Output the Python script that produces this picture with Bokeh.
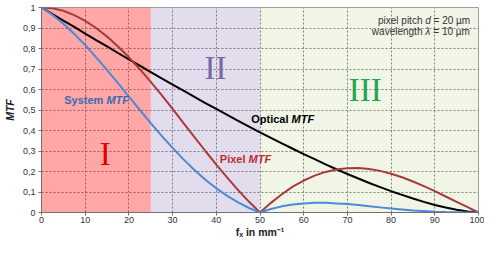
from bokeh.plotting import figure
from bokeh.models import Range1d, FixedTicker
from bokeh.core.properties import value
from bokeh.embed import file_html
from bokeh.resources import INLINE

# spatial frequency f_x in mm^-1
freq = [0, 2.5, 5, 7.5, 10, 12.5, 15, 17.5, 20, 22.5, 25, 27.5, 30, 32.5, 35, 37.5,
        40, 42.5, 45, 47.5, 50, 52.5, 55, 57.5, 60, 62.5, 65, 67.5, 70, 72.5, 75,
        77.5, 80, 82.5, 85, 87.5, 90, 92.5, 95, 97.5, 100]

optical_mtf = [1.0, 0.968, 0.936, 0.905, 0.873, 0.841, 0.810, 0.778, 0.747, 0.716,
               0.685, 0.654, 0.624, 0.594, 0.564, 0.534, 0.505, 0.476, 0.447, 0.419,
               0.391, 0.364, 0.337, 0.311, 0.285, 0.260, 0.235, 0.211, 0.188, 0.166,
               0.144, 0.124, 0.104, 0.086, 0.068, 0.052, 0.037, 0.024, 0.013, 0.005, 0.0]

pixel_mtf = [1.0, 0.996, 0.984, 0.963, 0.935, 0.900, 0.858, 0.810, 0.757, 0.699,
             0.637, 0.572, 0.505, 0.436, 0.368, 0.300, 0.234, 0.170, 0.109, 0.052,
             0.0, 0.047, 0.089, 0.126, 0.156, 0.180, 0.198, 0.210, 0.216, 0.217,
             0.212, 0.203, 0.189, 0.172, 0.151, 0.129, 0.104, 0.078, 0.052, 0.026, 0.0]

system_mtf = [1.0, 0.964, 0.921, 0.871, 0.817, 0.757, 0.695, 0.631, 0.565, 0.500,
              0.436, 0.374, 0.315, 0.259, 0.207, 0.160, 0.118, 0.081, 0.049, 0.022,
              0.0, 0.017, 0.030, 0.039, 0.044, 0.047, 0.047, 0.044, 0.041, 0.036,
              0.031, 0.025, 0.020, 0.015, 0.010, 0.007, 0.004, 0.002, 0.001, 0.0, 0.0]

# regions I, II, III
region_left = [0, 25, 50]
region_right = [25, 50, 100]
region_names = ["I", "II", "III"]

x_ticks = [0, 10, 20, 30, 40, 50, 60, 70, 80, 90, 100]
y_ticks = [0.0, 0.1, 0.2, 0.3, 0.4, 0.5, 0.6, 0.7, 0.8, 0.9, 1.0]
y_tick_labels = ["0", "0,1", "0,2", "0,3", "0,4", "0,5", "0,6", "0,7", "0,8", "0,9", "1"]

FONT = value("Liberation Sans")

p = figure(width=484, height=240, x_range=Range1d(0, 100), y_range=Range1d(0, 1),
           output_backend="svg", toolbar_location=None,
           min_border_left=39, min_border_right=6, min_border_top=7, min_border_bottom=26)
p.background_fill_color = "white"
p.border_fill_color = "white"
p.outline_line_color = "#a0a0a0"
p.outline_line_width = 1

# region backgrounds (semi-transparent so the grid shows through tinted)
p.quad(left=region_left, right=region_right, bottom=0, top=1,
       fill_color=["#ff0000", "#6e50a0", "#739b05"],
       fill_alpha=[0.35, 0.2, 0.1], line_color=None)

# grid
for g in (p.xgrid, p.ygrid):
    g.grid_line_color = "#808080"
    g.grid_line_dash = "2 2"
    g.grid_line_width = 1
p.xgrid.ticker = FixedTicker(ticks=x_ticks)
p.ygrid.ticker = FixedTicker(ticks=y_ticks)

# axes
p.xaxis.ticker = FixedTicker(ticks=x_ticks)
p.yaxis.ticker = FixedTicker(ticks=y_ticks)
p.yaxis.major_label_overrides = dict(zip(y_ticks, y_tick_labels))
for ax in (p.xaxis[0], p.yaxis[0]):
    ax.axis_line_color = "#707070"
    ax.major_tick_line_color = "#707070"
    ax.major_tick_in = 0
    ax.major_tick_out = 3
    ax.minor_tick_line_color = None
    ax.major_label_text_font = "Liberation Sans"
    ax.major_label_text_font_size = "9px"
    ax.major_label_text_color = "#333333"
    ax.major_label_standoff = 3
    ax.axis_label_text_font = "Liberation Sans"
    ax.axis_label_text_font_style = "bold"
    ax.axis_label_text_font_size = "10.5px"
    ax.axis_label_text_color = "#222222"
p.yaxis.axis_label = "MTF"
p.yaxis[0].axis_label_text_font_style = "bold italic"
p.yaxis[0].axis_label_standoff = 4
p.xaxis.axis_label = "fₓ in mm⁻¹"
p.xaxis[0].axis_label_standoff = 0
p.xaxis[0].major_label_standoff = 1

# curves
p.line(freq, optical_mtf, line_color="#000000", line_width=2)
p.line(freq, pixel_mtf, line_color="#a83a3a", line_width=2)
p.line(freq, system_mtf, line_color="#4b8ad6", line_width=2)

# curve labels (each part placed by pixel offset; SVG drops leading spaces)
def label(x, y, parts, color, size="11px"):
    off = 0
    for txt, style, w in parts:
        p.text(x=[x], y=[y], text=[txt], x_offset=off, text_font=FONT,
               text_font_style=style, text_font_size=size, text_color=color,
               text_align="left", text_baseline="middle")
        off += w

label(5.2, 0.55, [("System", "bold", 42.2), ("MTF", "bold italic", 0)], "#3c6bb0")
label(40.8, 0.26, [("Pixel", "bold", 28.7), ("MTF", "bold italic", 0)], "#bb2d2d")
label(48.0, 0.455, [("Optical", "bold", 40.3), ("MTF", "bold italic", 0)], "#000000")

# roman numerals
p.text(x=[14.6, 39.8, 74.1], y=[0.284, 0.703, 0.60], text=region_names,
       text_color=["#e00000", "#7a68a6", "#21a650"], text_font=value("Liberation Serif"),
       text_font_size="33px", text_align="center", text_baseline="middle")

# parameters
label(77.0, 0.935, [("pixel pitch", "normal", 47.2), ("d", "italic", 8.4), ("= 20 µm", "normal", 0)], "#333333", "10px")
label(75.6, 0.885, [("wavelength", "normal", 53.4), ("λ", "italic", 8.0), ("= 10 µm", "normal", 0)], "#333333", "10px")

open("out.html", "w").write(file_html(p, INLINE))
